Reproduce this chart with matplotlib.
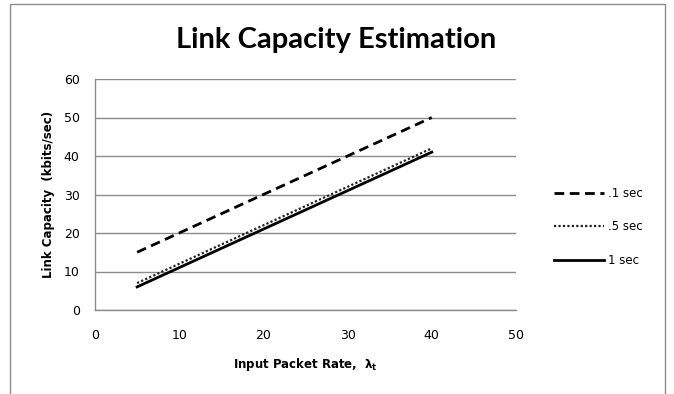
import matplotlib.pyplot as plt
from matplotlib.patches import Rectangle

# data
rate = [5, 10, 15, 20, 25, 30, 35, 40]
cap_01 = [15, 20, 25, 30, 35, 40, 45, 50]
cap_05 = [7, 12, 17, 22, 27, 32, 37, 42]
cap_1 = [6, 11, 16, 21, 26, 31, 36, 41]
series_labels = [".1 sec", ".5 sec", "1 sec"]
x_ticks = [0, 10, 20, 30, 40, 50]
y_ticks = [0, 10, 20, 30, 40, 50, 60]

fig = plt.figure(figsize=(6.74, 3.94), dpi=100)
W, H = 674, 394

# outer chart border
fig.patches.append(Rectangle((10 / W, -0.01), 655 / W, 1 - 4 / H + 0.01,
                             transform=fig.transFigure, fill=False,
                             edgecolor="#8c8c8c", linewidth=1))

ax = fig.add_axes([95 / W, 1 - 310 / H, 421 / W, 231 / H])

ax.plot(rate, cap_01, color="black", linestyle=(0, (3.5, 2)), linewidth=2, label=series_labels[0])
ax.plot(rate, cap_05, color="#222222", linestyle=(0, (1, 1)), linewidth=1.6, label=series_labels[1])
ax.plot(rate, cap_1, color="black", linestyle="-", linewidth=2, label=series_labels[2])

ax.set_xlim(0, 50)
ax.set_ylim(0, 60)
ax.set_xticks(x_ticks)
ax.set_yticks(y_ticks)
ax.tick_params(length=0, labelsize=9, colors="black")
ax.tick_params(axis="x", pad=14)
ax.tick_params(axis="y", pad=11)
ax.grid(axis="y", color="#8c8c8c", linewidth=1)
ax.set_axisbelow(True)
for s in ["top", "right"]:
    ax.spines[s].set_visible(False)
for s in ["left", "bottom"]:
    ax.spines[s].set_color("#8c8c8c")
    ax.spines[s].set_linewidth(1)

fig.text(336 / W, 1 - 40 / H, "Link Capacity Estimation", ha="center", va="center",
         fontsize=21, fontweight="bold", family="Lato")
ax.set_xlabel(r"Input Packet Rate,  $\mathbf{\lambda_t}$", fontsize=8.5, fontweight="bold", labelpad=10)
ax.set_ylabel("Link Capacity  (kbits/sec)", fontsize=8.5, fontweight="bold", labelpad=6)

ax.legend(loc="center left", bbox_to_anchor=(1.065, 0.36), frameon=False,
          fontsize=8.5, handlelength=4.2, handletextpad=0.4, labelspacing=1.75)

fig.savefig("out.png", dpi=100)
